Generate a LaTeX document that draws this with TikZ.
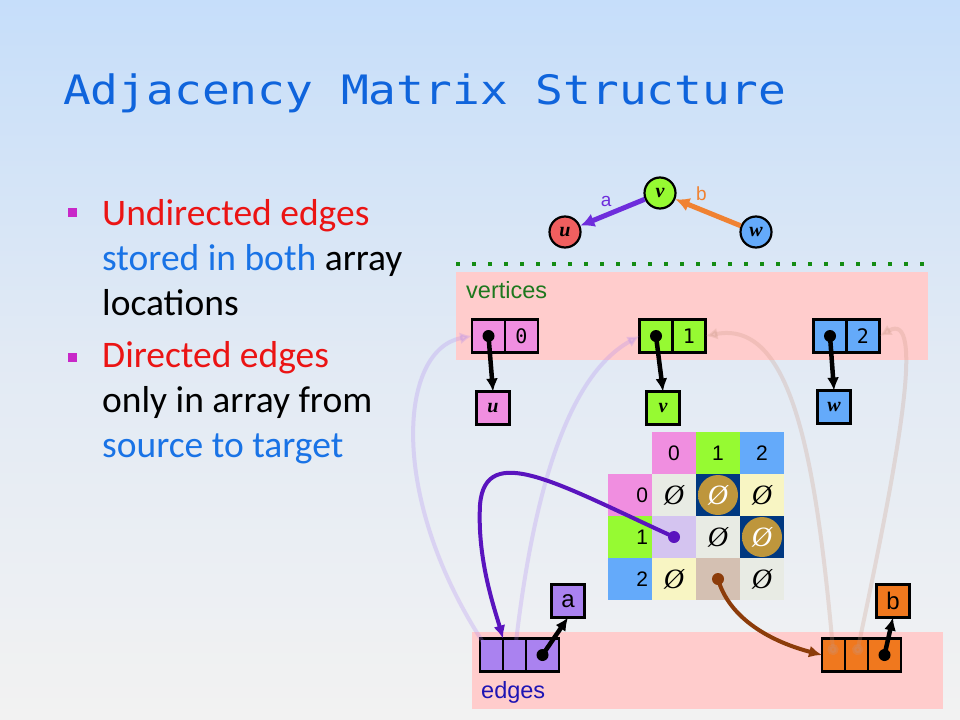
\documentclass[tikz,border=0pt]{standalone}
\usepackage{fontspec}
\setmainfont{Liberation Sans}
\newfontfamily\titlefont[FakeStretch=1.14]{DejaVu Sans Mono}
\newfontfamily\idxfont{DejaVu Sans Mono}
\newfontfamily\bulletfont{Carlito}
\newfontfamily\varfont{Liberation Serif}
\usepackage{xcolor}
\usepackage{tikz}
\usetikzlibrary{positioning, arrows.meta, matrix}

\definecolor{bgtop}{RGB}{198,222,250}
\definecolor{bgmid}{RGB}{226,234,244}
\definecolor{bgbot}{RGB}{242,242,242}
\definecolor{titleblue}{RGB}{15,100,220}
\definecolor{bulmag}{RGB}{200,40,200}
\definecolor{txtred}{RGB}{235,20,20}
\definecolor{txtblue}{RGB}{25,115,230}
\definecolor{dotgreen}{RGB}{20,140,20}
\definecolor{regionpink}{RGB}{255,204,204}
\definecolor{vlabgreen}{RGB}{30,120,30}
\definecolor{elabblue}{RGB}{30,20,180}
\definecolor{upink}{RGB}{240,142,224}
\definecolor{vgreen}{RGB}{150,250,50}
\definecolor{wblue}{RGB}{100,170,250}
\definecolor{ured}{RGB}{240,95,95}
\definecolor{edgepurple}{RGB}{110,45,220}
\definecolor{edgeorange}{RGB}{240,130,50}
\definecolor{apurple}{RGB}{170,130,240}
\definecolor{borange}{RGB}{240,120,30}
\definecolor{navy}{RGB}{0,56,128}
\definecolor{glowgold}{RGB}{190,150,60}
\definecolor{cellgray}{RGB}{232,235,228}
\definecolor{cellyellow}{RGB}{248,245,195}
\definecolor{celllav}{RGB}{212,196,240}
\definecolor{celltan}{RGB}{212,192,178}
\definecolor{linkpurple}{RGB}{90,20,190}
\definecolor{linkbrown}{RGB}{140,60,10}
\definecolor{fainttan}{RGB}{200,150,130}

\pgfdeclareradialshading{glow}{\pgfpoint{0bp}{0bp}}{color(0bp)=(glowgold); color(30bp)=(glowgold); color(46bp)=(navy); color(50bp)=(navy)}

\newcommand{\noedge}{{\varfont\itshape\fontsize{28bp}{28bp}\selectfont Ø}}

\begin{document}
\begin{tikzpicture}[x=1bp, y=-1bp,
        vertex/.style={circle, draw, line width=2.2bp, minimum size=31bp, inner sep=0pt, font=\varfont\bfseries\itshape\fontsize{20bp}{20bp}\selectfont},
        cell/.style={rectangle, draw, line width=2.3bp, minimum size=33bp, inner sep=0pt, outer sep=0pt},
        ecell/.style={cell, minimum width=23bp},
        idx/.style={font=\idxfont\fontsize{20bp}{20bp}\selectfont},
        varlabel/.style={font=\varfont\bfseries\itshape\fontsize{20bp}{20bp}\selectfont},
        mcell/.style={rectangle, minimum width=44bp, minimum height=42bp, inner sep=0pt, outer sep=0pt, anchor=center, font=\fontsize{21bp}{21bp}\selectfont},
        rowhead/.style={text width=36bp, align=right},
        ptr/.style={circle, fill=black, inner sep=0pt, minimum size=12bp},
        ptrlink/.style={draw, line width=4.5bp, -{Latex[length=13bp, width=12bp]}},
        graphedge/.style={draw, line width=5bp, -{Latex[length=14bp, width=14bp]}},
        faintlink/.style={draw, line width=4bp, opacity=0.25, {Circle[length=11bp]}-{Latex[length=12bp, width=12bp]}},
        link/.style={draw, line width=4bp, -{Latex[length=13bp, width=12bp]}},
        bulletline/.style={font=\bulletfont\fontsize{37.5bp}{45bp}\selectfont, anchor=base west, inner sep=0pt},
        bulletsq/.style={rectangle, fill=bulmag, minimum size=9bp, inner sep=0pt},
        arraylabel/.style={font=\fontsize{23.5bp}{23.5bp}\selectfont, anchor=base west, inner sep=0pt}
        ]

        % Background
        \useasboundingbox (0,0) rectangle (960,720);
        \shade[top color=bgtop, bottom color=bgbot, middle color=bgmid] (0,0) rectangle (960,720);

        % Title and bullets
        \node[font=\titlefont\fontsize{40.5bp}{40.5bp}\selectfont, text=titleblue, anchor=base west, inner sep=0pt] (title) at (63,105) {Adjacency Matrix Structure};

        \node[bulletsq] (sq1) at (72.5,212.5) {};
        \node[bulletline] (l1) at (102,225) {\color{txtred}Undirected edges};
        \node[bulletline] (l2) at (102,270) {{\color{txtblue}stored in both} array};
        \node[bulletline] (l3) at (102,315) {locations};
        \node[bulletsq] (sq2) at (72.5,357) {};
        \node[bulletline] (l4) at (102,367) {\color{txtred}Directed edges};
        \node[bulletline] (l5) at (102,412) {only in array from};
        \node[bulletline] (l6) at (102,457) {\color{txtblue}source to target};

        % Graph
        \node[vertex, fill=ured] (u) at (565,232) {u};
        \node[vertex, fill=vgreen] (v) at (660,193) {v};
        \node[vertex, fill=wblue] (w) at (756,232) {w};
        \draw[graphedge, edgepurple] (v) -- node[pos=0.6, above=3bp, font=\fontsize{19bp}{19bp}\selectfont] {a} (u);
        \draw[graphedge, edgeorange] (w) -- node[pos=0.6, above=3bp, font=\fontsize{19bp}{19bp}\selectfont] {b} (v);

        \draw[dotgreen, line width=4bp, dash pattern=on 4bp off 12bp] (456,263.5) -- (926,263.5);

        % Regions
        \fill[regionpink] (456,272) rectangle (928,360);
        \fill[regionpink] (472,632) rectangle (943,709);
        \node[arraylabel, text=vlabgreen] (vlabel) at (466,298) {vertices};
        \node[arraylabel, text=elabblue] (elabel) at (481,698) {edges};

        % Vertex array
        \node[cell, fill=upink] (uptr) at (488.5,336) {};
        \node[cell, fill=upink, right=0pt of uptr, idx] (uidx) {0};
        \node[cell, fill=vgreen] (vptr) at (656,336) {};
        \node[cell, fill=vgreen, right=0pt of vptr, idx] (vidx) {1};
        \node[cell, fill=wblue] (wptr) at (830,336) {};
        \node[cell, fill=wblue, right=0pt of wptr, idx] (widx) {2};

        \node[cell, fill=upink, varlabel] (ubox) at (493,408) {u};
        \node[cell, fill=vgreen, varlabel] (vbox) at (663,408) {v};
        \node[cell, fill=wblue, varlabel] (wbox) at (834,407) {w};

        \node[ptr] (udot) at (uptr) {};
        \node[ptr] (vdot) at (vptr) {};
        \node[ptr] (wdot) at (wptr) {};
        \draw[ptrlink] (udot.center) -- (ubox.north);
        \draw[ptrlink] (vdot.center) -- (vbox.north);
        \draw[ptrlink] (wdot.center) -- (wbox.north);

        % Edge array
        \node[ecell, fill=apurple] (ea1) at (491.5,655) {};
        \node[ecell, fill=apurple, right=0pt of ea1] (ea2) {};
        \node[cell, fill=apurple, right=0pt of ea2] (ea3) {};
        \node[cell, fill=apurple, font=\fontsize{24bp}{24bp}\selectfont] (abox) at (568,601) {a};
        \node[ptr] (adot3) at (ea3) {};
        \draw[ptrlink] (adot3.center) -- (abox.south);

        \node[ecell, fill=borange] (eb1) at (833.5,655) {};
        \node[ecell, fill=borange, right=0pt of eb1] (eb2) {};
        \node[cell, fill=borange, right=0pt of eb2] (eb3) {};
        \node[cell, fill=borange, font=\fontsize{24bp}{24bp}\selectfont] (bbox) at (893,601) {b};
        \node[ptr] (bdot3) at (eb3) {};
        \draw[ptrlink] (bdot3.center) -- (bbox.south);

        % Matrix
        \matrix (adj) [matrix of nodes, nodes={mcell}, column sep=0pt, row sep=0pt, nodes in empty cells] at (696,516) {
                                 & |[fill=upink]| 0           & |[fill=vgreen]| 1         & |[fill=wblue]| 2          \\
            |[rowhead, fill=upink]| 0  & |[fill=cellgray]| \noedge   & |[fill=navy]|             & |[fill=cellyellow]| \noedge \\
            |[rowhead, fill=vgreen]| 1 & |[fill=celllav]|            & |[fill=cellgray]| \noedge & |[fill=navy]|             \\
            |[rowhead, fill=wblue]| 2  & |[fill=cellyellow]| \noedge & |[fill=celltan]|          & |[fill=cellgray]| \noedge \\
        };

        \shade[shading=glow] (adj-2-3.center) circle (20);
        \shade[shading=glow] (adj-3-4.center) circle (20);
        \node[mcell, text=white] (glow23) at (adj-2-3) {\noedge};
        \node[mcell, text=white] (glow34) at (adj-3-4) {\noedge};

        \node[ptr, fill=linkpurple] (adot) at (adj-3-2) {};
        \node[ptr, fill=linkbrown] (bdot) at (adj-4-3) {};

        % Links
        \draw[faintlink, apurple] (ea1.center) .. controls (388,500) and (398,350) .. (uptr.west);
        \draw[faintlink, apurple] (ea2.center) .. controls (530,520) and (560,380) .. (vptr.west);
        \draw[faintlink, fainttan] (eb1.center) .. controls (815,450) and (790,320) .. (vidx.east);
        \draw[faintlink, fainttan] (eb2.center) .. controls (900,450) and (925,310) .. (widx.east);

        \draw[link, linkpurple] (adot.center) .. controls (560,485) and (485,440) .. (480,505) .. controls (477,560) and (495,610) .. (ea1.north east);
        \draw[link, linkbrown] (bdot.center) .. controls (728,615) and (765,640) .. (eb1.west);

    \end{tikzpicture}
\end{document}
